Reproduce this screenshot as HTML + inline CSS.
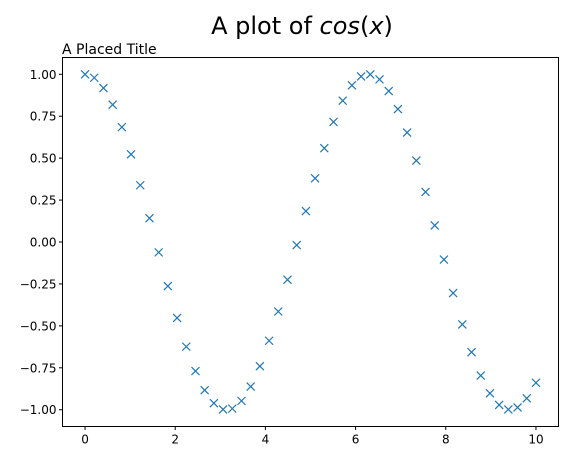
<!DOCTYPE html>
<html><head><meta charset="utf-8"><style>
body{margin:0;background:#fff;}
svg text{font-family:"DejaVu Sans","Liberation Sans",sans-serif;}
</style></head><body>
<svg id="c" width="568" height="461" xmlns="http://www.w3.org/2000/svg">
<text x="302" y="34" font-size="24" text-anchor="middle">A plot of <tspan font-style="italic">cos</tspan>(<tspan font-style="italic">x</tspan>)</text>
<text x="62" y="54" font-size="14">A Placed Title</text>
<rect x="62.5" y="57.5" width="496" height="369" fill="none" stroke="#000" stroke-width="1"/>
<g id="ticks"></g><g id="marks"></g>
</svg>
<script>
const xVals=[0,0.2041,0.4082,0.6122,0.8163,1.0204,1.2245,1.4286,1.6327,1.8367,2.0408,2.2449,2.4490,2.6531,2.8571,3.0612,3.2653,3.4694,3.6735,3.8776,4.0816,4.2857,4.4898,4.6939,4.8980,5.1020,5.3061,5.5102,5.7143,5.9184,6.1224,6.3265,6.5306,6.7347,6.9388,7.1429,7.3469,7.5510,7.7551,7.9592,8.1633,8.3673,8.5714,8.7755,8.9796,9.1837,9.3878,9.5918,9.7959,10];
const yVals=[1.0,0.9792,0.9178,0.8184,0.6849,0.5228,0.3384,0.1418,-0.0618,-0.2627,-0.4525,-0.6238,-0.7696,-0.8835,-0.9608,-0.9981,-0.9935,-0.9473,-0.8616,-0.7402,-0.5888,-0.4143,-0.2248,-0.0185,0.1845,0.3798,0.5595,0.7159,0.8427,0.9343,0.9871,0.9991,0.9696,0.8998,0.7927,0.6526,0.4858,0.2983,0.0988,-0.1048,-0.3043,-0.4914,-0.6570,-0.7966,-0.9020,-0.9714,-0.9984,-0.9861,-0.9319,-0.8391];
const xTicks=[0,2,4,6,8,10];
const yTicks=[1.0,0.75,0.5,0.25,0,-0.25,-0.5,-0.75,-1.0];
const yTickLabels=["1.00","0.75","0.50","0.25","0.00","\u22120.25","\u22120.50","\u22120.75","\u22121.00"];
const L=62.5,R=558.5,T=57.5,B=426.5;
const sx=v=>L+(v+0.5)/11*(R-L);
const sy=v=>B-(v+1.1)/2.2*(B-T);
const NS="http://www.w3.org/2000/svg";
const tg=document.getElementById('ticks'),mg=document.getElementById('marks');
function mk(tag,attrs,parent){const e=document.createElementNS(NS,tag);for(const k in attrs)e.setAttribute(k,attrs[k]);parent.appendChild(e);return e;}
xTicks.forEach(v=>{const x=sx(v);
 const l=mk('line',{x1:x,x2:x,y1:B,y2:B+3.5,stroke:'#000'},tg);
 
 
 const t=mk('text',{x:x,y:B+17,'font-size':12,'text-anchor':'middle'},tg);t.textContent=v;
 
 });
yTicks.forEach((v,i)=>{const y=sy(v);
 const l=mk('line',{x1:L-3.5,x2:L,y1:y,y2:y,stroke:'#000'},tg);
 
 
 const t=mk('text',{x:L-6,y:y+4.5,'font-size':12,'text-anchor':'end'},tg);t.textContent=yTickLabels[i];
 
 });
xVals.forEach((xv,i)=>{const x=sx(xv),y=sy(yVals[i]),s=4;
 const p=mk('path',{d:`M${x-s},${y-s}L${x+s},${y+s}M${x-s},${y+s}L${x+s},${y-s}`,stroke:'#1f77b4','stroke-width':1.2,fill:'none'},mg);
 
 });
</script>
</body></html>
